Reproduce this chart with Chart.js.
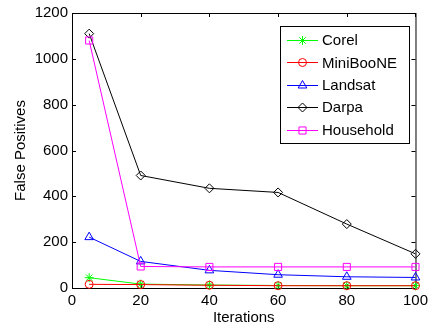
<!DOCTYPE html>
<html>
<head>
<meta charset="utf-8">
<script src="https://cdn.jsdelivr.net/npm/chart.js@4/dist/chart.umd.min.js"></script>
<style>
  html, body { margin: 0; padding: 0; background: #fff; }
  #chart { display: block; }
</style>
</head>
<body>
<canvas id="chart" width="432" height="325"></canvas>
<script>
/* ================= DATA ================= */
const iterations = [5, 20, 40, 60, 80, 100];
const corel     = [45, 17, 13, 11, 10, 10];
const miniboone = [16, 15, 12, 10, 10, 10];
const landsat   = [222, 116, 77, 58, 49, 46];
const darpa     = [1110, 491, 435, 417, 279, 149];
const household = [1080, 94, 92, 92, 92, 92];

const xTicks = [0, 20, 40, 60, 80, 100];
const yTicks = [0, 200, 400, 600, 800, 1000, 1200];

const FONT = '"Liberation Sans", Arial, Helvetica, sans-serif';

const SERIES = [
  { label: 'Corel',     data: corel,     color: '#00ff00', style: 'star',     r: 4.5 },
  { label: 'MiniBooNE', data: miniboone, color: '#ff0000', style: 'circle',   r: 4 },
  { label: 'Landsat',   data: landsat,   color: '#0000ff', style: 'triangle', r: 5 },
  { label: 'Darpa',     data: darpa,     color: '#000000', style: 'rectRot',  r: 4.5 },
  { label: 'Household', data: household, color: '#ff00ff', style: 'rect',     r: 5 }
];

/* ================= PLUGINS ================= */
// matlab style box with inward ticks
const boxPlugin = {
  id: 'box',
  beforeDatasetsDraw(chart) {
    const { ctx, chartArea: a, scales } = chart;
    ctx.save();
    ctx.strokeStyle = '#000';
    ctx.lineWidth = 1;
    ctx.strokeRect(a.left + 0.5, a.top + 0.5, a.right - a.left, a.bottom - a.top);
    ctx.beginPath();
    xTicks.forEach(v => {
      const x = Math.round(scales.x.getPixelForValue(v)) + 0.5;
      ctx.moveTo(x, a.bottom); ctx.lineTo(x, a.bottom - 4);
      ctx.moveTo(x, a.top); ctx.lineTo(x, a.top + 4);
    });
    yTicks.forEach(v => {
      const y = Math.round(scales.y.getPixelForValue(v)) + 0.5;
      ctx.moveTo(a.left, y); ctx.lineTo(a.left + 4, y);
      ctx.moveTo(a.right, y); ctx.lineTo(a.right - 4, y);
    });
    ctx.stroke();
    ctx.restore();
  }
};

function drawMarker(ctx, style, r, x, y) {
  if (window.Chart && Chart.helpers && Chart.helpers.drawPoint) {
    Chart.helpers.drawPoint(ctx, { pointStyle: style, radius: r, rotation: 0, borderWidth: 1 }, x, y);
  } else {
    ctx.beginPath();
    ctx.arc(x, y, r, 0, Math.PI * 2);
    ctx.stroke();
  }
}

const legendPlugin = {
  id: 'mlegend',
  afterDraw(chart) {
    const { ctx } = chart;
    const bx = 280.5, by = 26.5, bw = 129, bh = 117;
    ctx.save();
    ctx.fillStyle = '#fff';
    ctx.fillRect(bx, by, bw, bh);
    ctx.strokeStyle = '#000';
    ctx.lineWidth = 1;
    ctx.strokeRect(bx, by, bw, bh);
    SERIES.forEach((s, i) => {
      const y = 40 + i * 22.4;
      ctx.strokeStyle = s.color;
      ctx.lineWidth = 1;
      ctx.beginPath();
      ctx.moveTo(287, Math.round(y) + 0.5);
      ctx.lineTo(318, Math.round(y) + 0.5);
      ctx.stroke();
      ctx.fillStyle = 'rgba(0,0,0,0)';
      drawMarker(ctx, s.style, s.r, 302.5, Math.round(y) + 0.5);
      ctx.fillStyle = '#000';
      ctx.font = '15px ' + FONT;
      ctx.textBaseline = 'middle';
      ctx.textAlign = 'left';
      ctx.fillText(s.label, 322, y + 1);
    });
    ctx.restore();
  }
};

/* ================= CHART ================= */
const datasets = SERIES.map((s, i) => ({
  label: s.label,
  data: iterations.map((x, j) => ({ x: x, y: s.data[j] })),
  borderColor: s.color,
  borderWidth: 1,
  backgroundColor: 'rgba(0,0,0,0)',
  pointStyle: s.style,
  pointRadius: s.r,
  pointBorderWidth: 1,
  pointBorderColor: s.color,
  pointBackgroundColor: 'rgba(0,0,0,0)',
  tension: 0,
  fill: false,
  clip: false,
  order: SERIES.length - i
}));

new Chart(document.getElementById('chart'), {
  type: 'line',
  data: { datasets },
  options: {
    responsive: false,
    animation: false,
    devicePixelRatio: 1,
    layout: { padding: { top: 11, right: 10, left: 0, bottom: 0 } },
    plugins: { legend: { display: false }, tooltip: { enabled: false } },
    scales: {
      x: {
        type: 'linear',
        min: 0, max: 100,
        afterFit: s => { s.height = 37; },
        afterBuildTicks: s => { s.ticks = xTicks.map(v => ({ value: v })); },
        grid: { display: false, drawTicks: false },
        border: { display: false },
        ticks: { color: '#000', padding: 4, font: { family: FONT, size: 15 },
                 callback: v => String(v) },
        title: { display: true, text: 'Iterations', color: '#000', padding: 0,
                 font: { family: FONT, size: 15, lineHeight: 1 } }
      },
      y: {
        type: 'linear',
        min: 0, max: 1200,
        afterFit: s => { s.width = 72; },
        afterBuildTicks: s => { s.ticks = yTicks.map(v => ({ value: v })); },
        grid: { display: false, drawTicks: false },
        border: { display: false },
        ticks: { color: '#000', padding: 4, font: { family: FONT, size: 15 },
                 callback: v => String(v) },
        title: { display: true, text: 'False Positives', color: '#000', padding: { top: 13, bottom: 0 },
                 font: { family: FONT, size: 15, lineHeight: 1 } }
      }
    }
  },
  plugins: [boxPlugin, legendPlugin]
});
</script>
</body>
</html>
